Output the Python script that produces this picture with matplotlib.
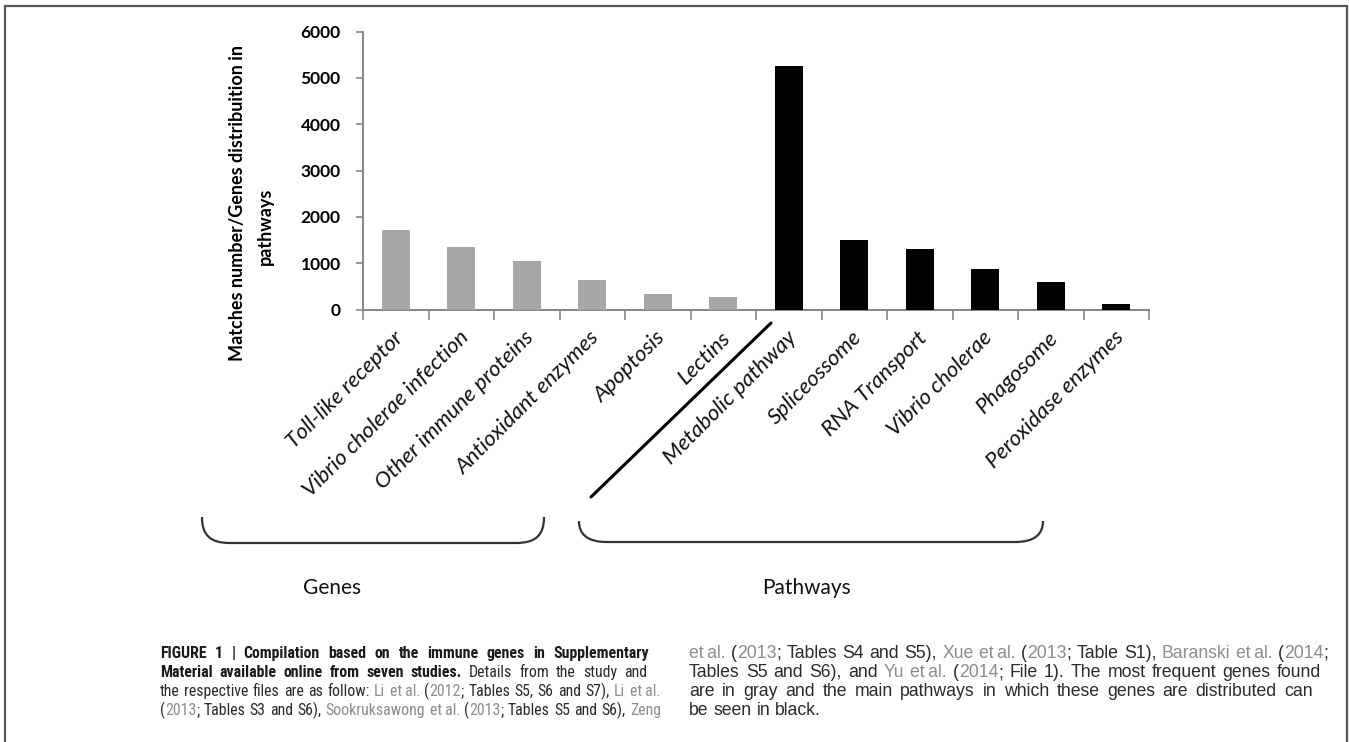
import re
import numpy as np
import matplotlib
matplotlib.use("Agg")
import matplotlib.pyplot as plt
from matplotlib.path import Path
from matplotlib.patches import PathPatch, Rectangle
from matplotlib.lines import Line2D
from matplotlib import font_manager

W, H = 1349, 742

# data
categories = ["Toll-like receptor", "Vibrio cholerae infection", "Other immune proteins",
              "Antioxidant enzymes", "Apoptosis", "Lectins", "Metabolic pathway",
              "Spliceossome", "RNA Transport", "Vibrio cholerae", "Phagosome",
              "Peroxidase enzymes"]
values = [1720, 1340, 1050, 630, 340, 270, 5260, 1490, 1310, 880, 600, 110]
groups = ["gene"] * 6 + ["pathway"] * 6
yticks = [0, 1000, 2000, 3000, 4000, 5000, 6000]
group_labels = ["Genes", "Pathways"]

# caption pieces: (text, style)  b = bold, n = normal, g = gray link
ETAL = "et\u2009al."
caption_left = [
    [("FIGURE 1 | Compilation based on the immune genes in Supplementary", "b")],
    [("Material available online from seven studies.", "b"), (" Details from the study and", "n")],
    [("the respective files are as follow: ", "n"), ("Li " + ETAL, "g"), (" (", "n"), ("2012", "g"),
     ("; Tables S5, S6 and S7), ", "n"), ("Li " + ETAL, "g")],
    [("(", "n"), ("2013", "g"), ("; Tables S3 and S6), ", "n"), ("Sookruksawong " + ETAL, "g"),
     (" (", "n"), ("2013", "g"), ("; Tables S5 and S6), ", "n"), ("Zeng", "g")],
]
caption_right = [
    [(ETAL, "g"), (" (", "n"), ("2013", "g"), ("; Tables S4 and S5), ", "n"), ("Xue " + ETAL, "g"),
     (" (", "n"), ("2013", "g"), ("; Table S1), ", "n"), ("Baranski " + ETAL, "g"), (" (", "n"),
     ("2014", "g"), (";", "n")],
    [("Tables S5 and S6), and ", "n"), ("Yu " + ETAL, "g"), (" (", "n"), ("2014", "g"),
     ("; File 1). The most frequent genes found", "n")],
    [("are in gray and the main pathways in which these genes are distributed can", "n")],
    [("be seen in black.", "n")],
]


def fx(x):
    return x / W


def fy(y):
    return 1 - y / H


def pick_font(cands):
    for fam, stretch in cands:
        fp = font_manager.FontProperties(family=fam, stretch=stretch)
        try:
            path = font_manager.findfont(fp, fallback_to_default=False)
        except Exception:
            continue
        if stretch != "normal" and "ondensed" not in path and "arrow" not in path:
            continue
        return fam, stretch
    return "DejaVu Sans", "normal"


chart_font = pick_font([("Lato", "normal")])[0]
narrow_font = pick_font([("Liberation Sans Narrow", "normal"), ("Roboto Condensed", "normal"),
                         ("Open Sans Condensed", "normal"), ("Noto Sans", "condensed"),
                         ("Open Sans", "condensed"), ("DejaVu Sans", "condensed"),
                         ("Liberation Sans", "normal")])
wide_font = pick_font([("Liberation Sans", "normal")])

fig = plt.figure(figsize=(W / 100, H / 100), dpi=100)

# outer frame
fig.add_artist(Rectangle((fx(5), fy(748)), fx(1347) - fx(5), fy(6) - fy(748),
                         transform=fig.transFigure, fill=False, edgecolor="#555555", lw=1.6))

ax = fig.add_axes([fx(363), fy(309.5), fx(1149) - fx(363), fy(31.5) - fy(309.5)])
x = np.arange(len(categories))
colors = ["#a6a6a6" if g == "gene" else "black" for g in groups]
ax.bar(x, values, width=0.42, color=colors, zorder=3)
ax.set_xlim(-0.5, len(categories) - 0.5)
ax.set_ylim(0, 6000)
ax.set_yticks(yticks)
ax.set_yticklabels([str(t) for t in yticks], fontfamily=chart_font, fontweight="bold", fontsize=12.5)
ax.set_xticks(np.arange(len(categories) + 1) - 0.5)
ax.set_xticklabels([])
ax.tick_params(axis="x", direction="out", length=7, color="#868686", width=1.2)
ax.tick_params(axis="y", direction="out", length=5, color="#868686", width=1.2, pad=11)
for s in ["top", "right"]:
    ax.spines[s].set_visible(False)
for s in ["left", "bottom"]:
    ax.spines[s].set_color("#868686")
    ax.spines[s].set_linewidth(1.4)

for i, name in enumerate(categories):
    ax.annotate(name, xy=(i, 0), xycoords="data", xytext=(3, -18), textcoords="offset points",
                rotation=45, ha="right", va="center", rotation_mode="anchor",
                fontstyle="italic", fontfamily=chart_font, fontsize=16, color="#111111")

# y label, two lines placed as in the original
fig.text(fx(237), fy(203), "Matches number/Genes distribuition in", rotation=90, ha="center",
         va="center", fontfamily=chart_font, fontweight="bold", fontsize=13)
fig.text(fx(265), fy(226), "pathways", rotation=90, ha="center", va="center",
         fontfamily=chart_font, fontweight="bold", fontsize=13)

# diagonal separator
fig.add_artist(Line2D([fx(591), fx(771)], [fy(497), fy(323)], transform=fig.transFigure,
                      color="black", lw=2.2, solid_capstyle="round"))


def brace(x0, x1, ytop, ybot):
    r = 28
    verts = [(x0, ytop), (x0, ybot - 8), (x0 + 8, ybot), (x0 + r, ybot),
             (x1 - r, ybot),
             (x1 - 8, ybot), (x1, ybot - 8), (x1, ytop)]
    codes = [Path.MOVETO, Path.CURVE4, Path.CURVE4, Path.CURVE4,
             Path.LINETO,
             Path.CURVE4, Path.CURVE4, Path.CURVE4]
    verts = [(fx(a), fy(b)) for a, b in verts]
    fig.add_artist(PathPatch(Path(verts, codes), transform=fig.transFigure, fill=False,
                             edgecolor="#333333", lw=1.6))


brace(202, 544, 517, 543)
brace(579, 1043, 521, 542)
fig.text(fx(332), fy(588), group_labels[0], ha="center", va="center", fontfamily=chart_font,
         fontsize=15, color="#111111")
fig.text(fx(807), fy(588), group_labels[1], ha="center", va="center", fontfamily=chart_font,
         fontsize=15, color="#111111")

# caption
styles = {
    "b": dict(fontweight="bold", color="#1a1a1a"),
    "n": dict(fontweight="normal", color="#2a2a2a"),
    "g": dict(fontweight="normal", color="#8c8c8c"),
}
renderer = fig.canvas.get_renderer()


def text_width(s, style, font, size):
    t = fig.text(0, 0, s, fontfamily=font[0], fontstretch=font[1], fontsize=size, **styles[style])
    w = t.get_window_extent(renderer).width
    t.remove()
    return w


def split_words(segments):
    words = [[]]
    for text, style in segments:
        for p in re.split(r"( +)", text):
            if p == "":
                continue
            if p.startswith(" "):
                if words[-1]:
                    words.append([])
            else:
                words[-1].append((p, style))
    return [w for w in words if w]


def natural_width(segments, font, size):
    words = split_words(segments)
    sp = text_width("a a", "n", font, size) - text_width("aa", "n", font, size)
    return sum(text_width(p, st, font, size) for w in words for p, st in w) + sp * (len(words) - 1)


def fit_size(lines, x0, ends, font, base=12.0, cap=14.0):
    ratios = [(xe - x0) / natural_width(segs, font, base)
              for segs, xe in zip(lines, ends) if xe is not None]
    return min(cap, base * min(ratios) * 0.99)


def draw_line(segments, x0, x1, y, font, size):
    words = split_words(segments)
    widths = [[text_width(p, st, font, size) for p, st in w] for w in words]
    total = sum(sum(w) for w in widths)
    sp = text_width("a a", "n", font, size) - text_width("aa", "n", font, size)
    gap = sp if x1 is None else (x1 - x0 - total) / max(len(words) - 1, 1)
    xpos = x0
    for w, ws in zip(words, widths):
        for (p, st), pw in zip(w, ws):
            fig.text(fx(xpos), fy(y), p, ha="left", va="baseline", fontfamily=font[0],
                     fontstretch=font[1], fontsize=size, **styles[st])
            xpos += pw
        xpos += gap


baselines = [658, 677, 696, 715]
left_ends = [649, 647, 660, 661]
right_ends = [1328, 1321, 1313, None]

left_size = fit_size(caption_left, 160, left_ends, narrow_font)
right_size = fit_size(caption_right, 689, right_ends, wide_font)
for segs, yb, xe in zip(caption_left, baselines, left_ends):
    draw_line(segs, 160, xe, yb, narrow_font, left_size)
for segs, yb, xe in zip(caption_right, baselines, right_ends):
    draw_line(segs, 689, xe, yb, wide_font, right_size)

fig.savefig("out.png", dpi=100)
